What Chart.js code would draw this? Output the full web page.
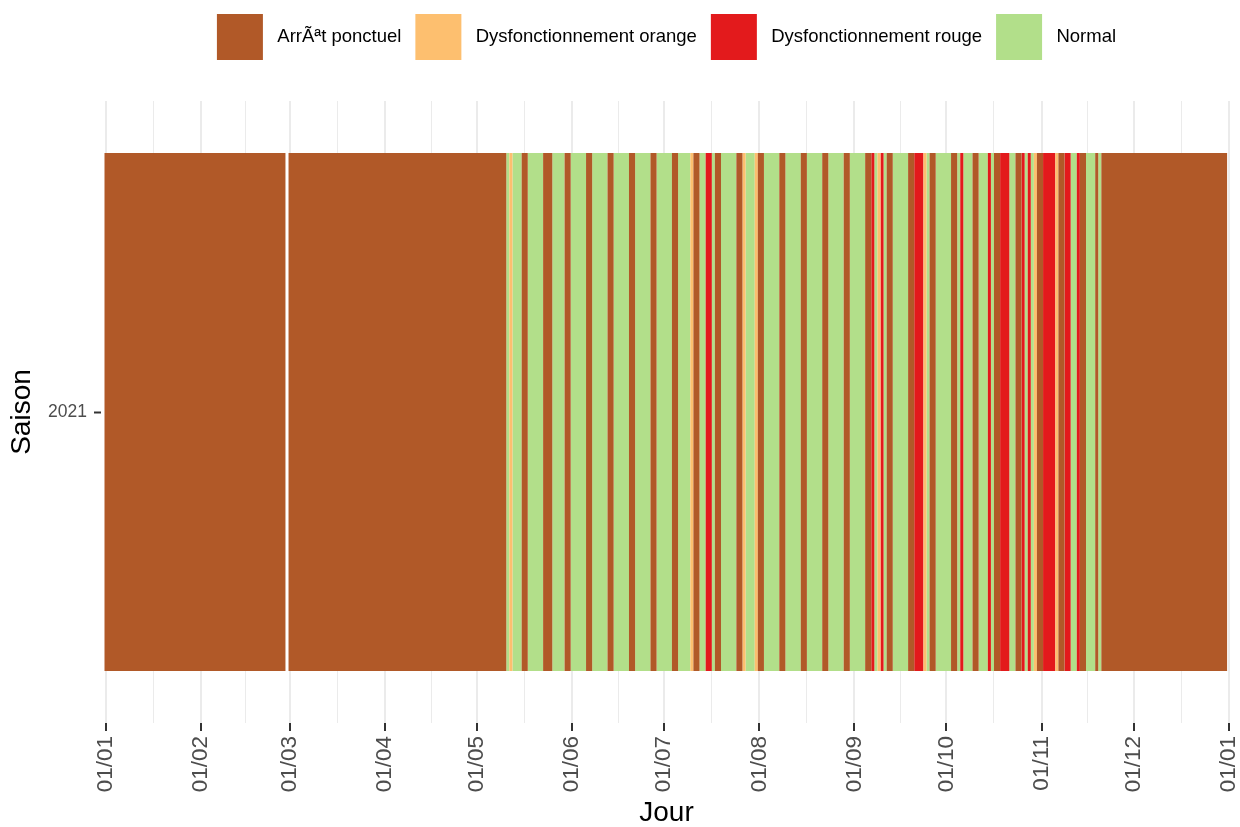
<!DOCTYPE html>
<html>
<head>
<meta charset="utf-8">
<script src="https://cdn.jsdelivr.net/npm/chart.js@4.4.1/dist/chart.umd.min.js"></script>
<style>
  html, body { margin: 0; padding: 0; background: #fff; }
</style>
</head>
<body>
<canvas id="etatChart" width="1240" height="827"></canvas>
<script>
// Legend categories and colours
const statusCodes = ['A', 'O', 'R', 'N'];
const statusLabels = ['ArrÃªt ponctuel', 'Dysfonctionnement orange', 'Dysfonctionnement rouge', 'Normal'];
const statusColors = ['#B15928', '#FDBF6F', '#E31A1C', '#B2DF8A'];

// Daily status as runs, starting 01/01 (day 0 of a 366 day axis)
// A = arret, O = orange, R = rouge, N = normal, '-' = no data (29/02)
const runStatus = ['A', '-', 'A', 'N', 'O', 'N', 'A', 'N', 'A', 'N', 'A', 'N', 'A', 'N', 'A', 'N',
  'A', 'N', 'A', 'N', 'A', 'N', 'O', 'A', 'N', 'R', 'N', 'A', 'N', 'A', 'O', 'N', 'O', 'A', 'N',
  'A', 'N', 'A', 'N', 'A', 'N', 'A', 'N', 'A', 'R', 'N', 'O', 'R', 'N', 'A', 'N', 'A', 'R', 'O',
  'N', 'A', 'N', 'A', 'N', 'R', 'N', 'A', 'N', 'R', 'N', 'A', 'R', 'N', 'A', 'R', 'N', 'R', 'N',
  'O', 'A', 'R', 'O', 'A', 'R', 'N', 'R', 'A', 'N', 'A', 'N', 'A'];
const runDays = [59, 1, 71, 1, 1, 3, 2, 5, 3, 4, 2, 5, 2, 5, 2, 5,
  2, 5, 2, 5, 2, 4, 1, 2, 2, 2, 1, 2, 5, 2, 1, 3, 1, 2, 5,
  2, 5, 2, 5, 2, 5, 2, 5, 2, 1, 1, 1, 1, 1, 2, 5, 2, 3, 1,
  1, 2, 5, 2, 1, 1, 3, 2, 3, 1, 1, 2, 3, 2, 2, 1, 1, 1, 1,
  1, 2, 4, 1, 2, 2, 2, 1, 2, 3, 1, 1, 41];

const season = ['2021'];
const monthStarts = [0, 31, 60, 91, 121, 152, 182, 213, 244, 274, 305, 335, 366];
const monthLabels = ['01/01', '01/02', '01/03', '01/04', '01/05', '01/06', '01/07',
  '01/08', '01/09', '01/10', '01/11', '01/12', '01/01'];

Chart.defaults.font.family = '"Liberation Sans", Arial, sans-serif';

// one tile per day, merged into runs: [start, end] on the day axis
function runsFor(code) {
  const out = [];
  let day = 0;
  runStatus.forEach((s, i) => {
    if (s === code) out.push({ x: [day - 0.5, day + runDays[i] - 0.5], y: season[0] });
    day += runDays[i];
  });
  return out;
}

// gridline positions: months + midpoints
function buildTicks(scale) {
  const ticks = monthStarts.map(v => ({ value: v }));
  for (let i = 0; i < monthStarts.length - 1; i++) {
    ticks.push({ value: (monthStarts[i] + monthStarts[i + 1]) / 2, minor: true });
  }
  ticks.sort((a, b) => a.value - b.value);
  scale.ticks = ticks;
}

// push the plot down below the legend
const legendGap = {
  id: 'legendGap',
  beforeInit(chart) {
    const fit = chart.legend.fit;
    chart.legend.fit = function () {
      fit.call(this);
      this.height += 31;
    };
  }
};

new Chart(document.getElementById('etatChart'), {
  type: 'bar',
  data: {
    labels: season,
    datasets: statusCodes.map((c, i) => ({
      label: statusLabels[i],
      data: runsFor(c),
      backgroundColor: statusColors[i],
      borderWidth: 0,
      grouped: false,
      barPercentage: 0.833,
      categoryPercentage: 1
    }))
  },
  options: {
    indexAxis: 'y',
    responsive: false,
    animation: false,
    devicePixelRatio: 1,
    layout: { padding: { top: 0, right: 8, bottom: 0, left: 0 } },
    plugins: {
      tooltip: { enabled: false },
      legend: {
        position: 'top',
        fullSize: false,
        labels: {
          boxWidth: 46,
          boxHeight: 46,
          padding: 14,
          color: '#000',
          font: { size: 18.5 },
          generateLabels: chart => Chart.defaults.plugins.legend.labels.generateLabels(chart)
            .map(item => Object.assign(item, { text: ' ' + item.text }))
        }
      }
    },
    scales: {
      x: {
        type: 'linear',
        min: -1.64,
        max: 367.1,
        afterBuildTicks: buildTicks,
        afterFit: s => {
          s.height = 104;
          s.paddingLeft = 0;
          s.paddingRight = 0;
        },
        border: { display: false },
        grid: {
          color: '#EBEBEB',
          lineWidth: ctx => (ctx.tick && ctx.tick.minor ? 1 : 2),
          tickColor: ctx => (ctx.tick && ctx.tick.minor ? 'rgba(0,0,0,0)' : '#333'),
          tickLength: 8,
          tickWidth: 2
        },
        ticks: {
          autoSkip: false,
          maxRotation: 90,
          minRotation: 90,
          padding: 5,
          color: '#4D4D4D',
          font: { size: 22.5 },
          callback: v => {
            const i = monthStarts.indexOf(v);
            return i >= 0 ? monthLabels[i] : '';
          }
        },
        title: {
          display: true,
          text: 'Jour',
          color: '#000',
          font: { size: 28, lineHeight: 1 },
          padding: 0
        }
      },
      y: {
        type: 'category',
        labels: season,
        offset: true,
        afterFit: s => { s.width = 101; },
        border: { display: false },
        grid: { offset: false, drawOnChartArea: false, tickLength: 7, tickColor: '#333', tickWidth: 2 },
        ticks: { color: '#4D4D4D', font: { size: 17.5 }, padding: 7 },
        title: {
          display: true,
          text: 'Saison',
          color: '#000',
          font: { size: 28, lineHeight: 1 },
          padding: { top: 8, bottom: 0 }
        }
      }
    }
  },
  plugins: [legendGap]
});
</script>
</body>
</html>
